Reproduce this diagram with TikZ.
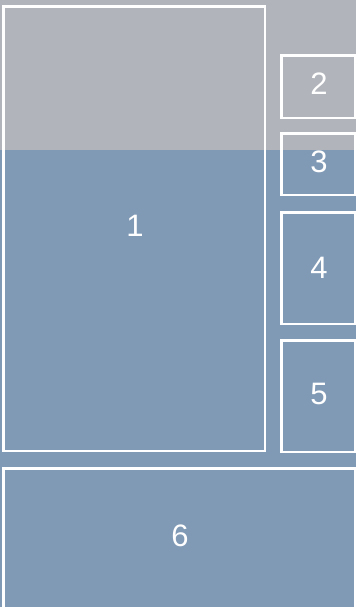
\documentclass[tikz,border=0pt]{standalone}
\usepackage{fontspec}
\setmainfont{Liberation Sans}
\definecolor{topgrey}{RGB}{177,181,187}
\definecolor{bluegrey}{RGB}{128,154,182}
\begin{document}
\begin{tikzpicture}[x=1pt,y=-1pt,
  box/.style={draw=white,line width=2.4pt},
  lbl/.style={text=white,font=\fontsize{31}{34}\selectfont,inner sep=0pt}]
\useasboundingbox (0,0) rectangle (356,607);
\fill[topgrey] (0,0) rectangle (356,150);
\fill[bluegrey] (0,150) rectangle (356,607);
\draw[box] (3.5,6.5) rectangle (265,451);
\draw[box] (281.5,55.5) rectangle (355,118);
\draw[box] (281.5,133.5) rectangle (355,195);
\draw[box] (281.5,212.5) rectangle (355,324);
\draw[box] (281.5,340.5) rectangle (355,452);
\draw[box] (355,608) -- (355,468.5) -- (3.5,468.5) -- (3.5,608);
\node[lbl] (n1) at (135,226) {1};
\node[lbl] (n2) at (319,84) {2};
\node[lbl] (n3) at (319,162) {3};
\node[lbl] (n4) at (319,268) {4};
\node[lbl] (n5) at (319,394) {5};
\node[lbl] (n6) at (180,536) {6};
\end{tikzpicture}
\end{document}
